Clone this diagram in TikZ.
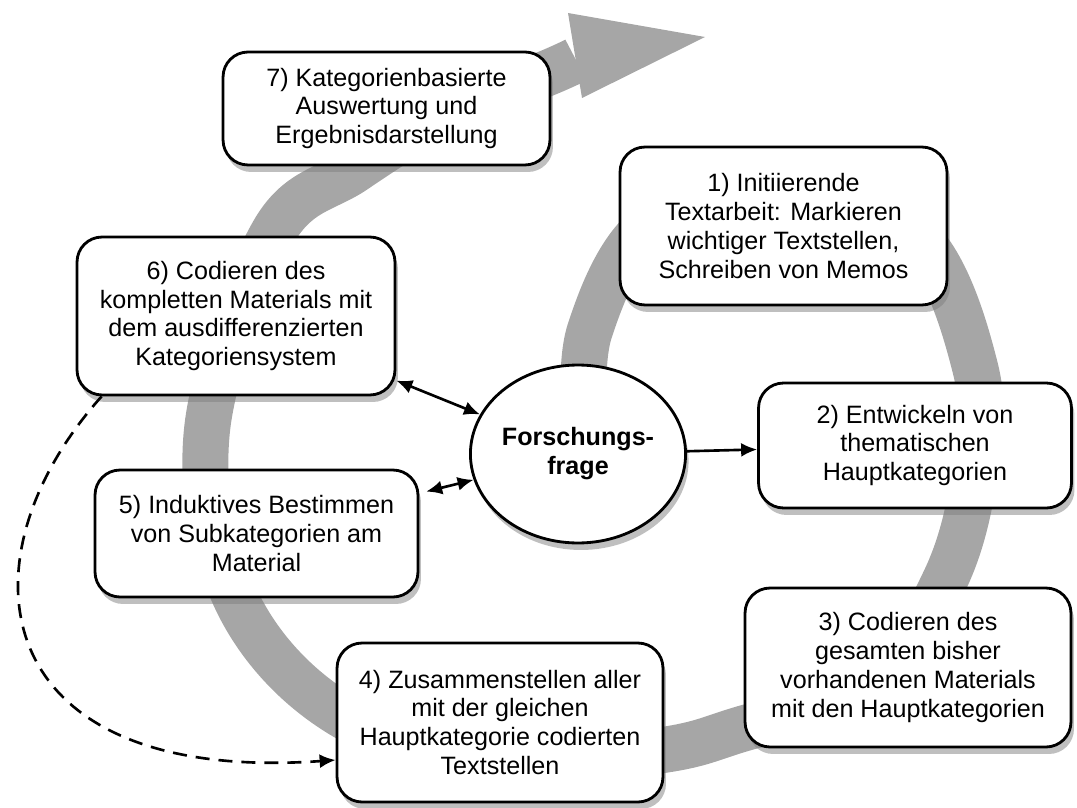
\documentclass[tikz,border=0pt]{standalone}
\usepackage{fontspec}
\setmainfont{Liberation Sans}
\usepackage{tikz}
\usetikzlibrary{shapes.geometric,arrows.meta,shadows}

\newcommand{\stepfont}{\fontsize{14.3}{16.5}\selectfont}

\begin{document}
\begin{tikzpicture}[x=0.02cm, y=-0.02cm,
    stepnode/.style={rectangle, draw=black, line width=1.6pt, fill=white, rounded corners=5mm,
        align=center, inner sep=0pt, font=\stepfont,
        drop shadow={shadow xshift=0.6mm, shadow yshift=-1.4mm, opacity=0.5}},
    questnode/.style={ellipse, draw=black, line width=1.6pt, fill=white, align=center,
        inner sep=0pt, minimum width=4.06cm, minimum height=3.56cm, font=\stepfont\bfseries,
        drop shadow={shadow xshift=0.6mm, shadow yshift=-1.4mm, opacity=0.5}},
    link/.style={line width=1.5pt, >={Latex[length=3.2mm,width=2.8mm]}}]
    \useasboundingbox (0,0) rectangle (1077,807);

    %Band
    \draw[black!35, line width=0.92cm] plot[smooth, tension=0.6] coordinates {
        (585,420) (590,330) (650,225) (780,185) (915,235) (975,367) (975,470) (945,580)
        (870,690) (745,728) (663,750) (500,765) (337,712) (235,597) (207,430)
        (273,233) (355,170) (450,112) (545,74) (576,60)};
    \fill[black!35] (568,13) -- (705,37) -- (582,98) -- cycle;

    %Nodes
    \node[stepnode, minimum width=6.54cm, minimum height=2.26cm] (b7) at (386.5,108.5)
        {7) Kategorienbasierte\\Auswertung und\\Ergebnisdarstellung};
    \node[stepnode, minimum width=6.54cm, minimum height=3.16cm] (b1) at (783.5,226)
        {1) Initiierende\\Textarbeit: Markieren\\wichtiger Textstellen,\\Schreiben von Memos};
    \node[stepnode, minimum width=6.36cm, minimum height=3.16cm] (b6) at (236,316)
        {6) Codieren des\\kompletten Materials mit\\dem ausdifferenzierten\\Kategoriensystem};
    \node[stepnode, minimum width=6.26cm, minimum height=2.5cm] (b2) at (915,445.5)
        {2) Entwickeln von\\thematischen\\Hauptkategorien};
    \node[stepnode, minimum width=6.52cm, minimum height=3.18cm] (b3) at (908,667.5)
        {3) Codieren des\\gesamten bisher\\vorhandenen Materials\\mit den Hauptkategorien};
    \node[stepnode, minimum width=6.52cm, minimum height=3.18cm] (b4) at (500,722.5)
        {4) Zusammenstellen aller\\mit der gleichen\\Hauptkategorie codierten\\Textstellen};
    \node[stepnode, minimum width=6.46cm, minimum height=2.54cm] (b5) at (256.5,533.5)
        {5) Induktives Bestimmen\\von Subkategorien am\\Material};
    \node[questnode] (q) at (578,454) {Forschungs-\\frage};

    %Lines
    \draw[link, ->] (q) -- (b2);
    \draw[link, <->] (b6) -- (q);
    \draw[link, <->, shorten <=1.4mm] (b5) -- (q);
    \draw[link, ->, dash pattern=on 2.8mm off 1.8mm] ([xshift=0.52cm]b6.south west)
        .. controls (-45,560) and (-15,785) .. ([yshift=-0.75cm]b4.west);
\end{tikzpicture}
\end{document}
